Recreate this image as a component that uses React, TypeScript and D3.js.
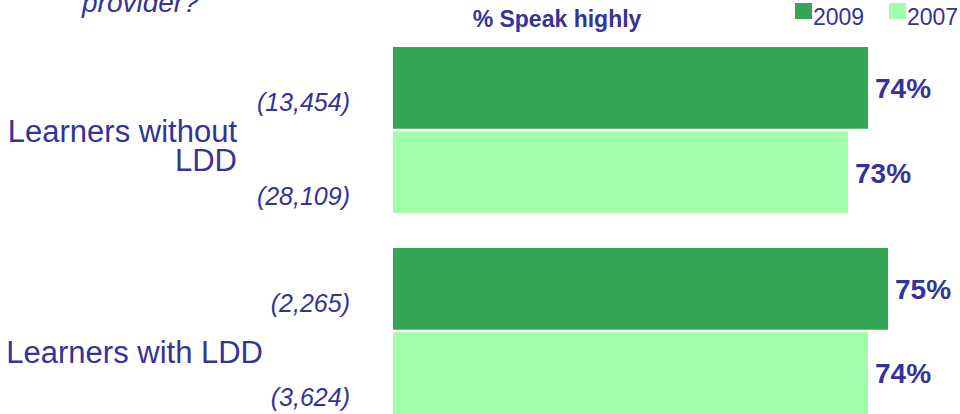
import React, { useEffect, useRef } from 'react';
import * as d3 from 'd3';

const categories = ['Learners without LDD', 'Learners with LDD'];
const categoryLines = [['Learners without', 'LDD'], ['Learners with LDD']];
const series = ['2009', '2007'];
const values2009 = [74, 75];
const values2007 = [73, 74];
const bases2009 = ['(13,454)', '(2,265)'];
const bases2007 = ['(28,109)', '(3,624)'];

const colors = ['#34a654', '#a1ffab'];
const navy = '#333399';

const App = () => {
  const svgRef = useRef<SVGSVGElement>(null);

  useEffect(() => {
    if (!svgRef.current) return;
    const width = 960;
    const height = 414;

    d3.select(svgRef.current).selectAll('*').remove();
    const svg = d3.select(svgRef.current)
      .attr('width', width)
      .attr('height', height)
      .style('font-family', 'Arial, "Liberation Sans", sans-serif');

    // value axis (the chart's baseline sits off to the left, bars are cut at the plot edge)
    const x = d3.scaleLinear().domain([50.25, 75]).range([393, 888]);

    const y0 = d3.scaleBand().domain(categories).range([47, 414]).paddingInner(0.174);
    const y1 = d3.scaleBand().domain(series).range([0, y0.bandwidth()]).paddingInner(0.03);

    const rows = categories.map((c, i) => ({
      cat: c,
      bars: [
        { s: series[0], v: values2009[i], base: bases2009[i] },
        { s: series[1], v: values2007[i], base: bases2007[i] },
      ],
    }));

    // title remnant (cut off at the top)
    svg.append('text')
      .attr('x', 82)
      .attr('y', 12)
      .attr('font-size', 28)
      .attr('font-style', 'italic')
      .attr('fill', navy)
      .text('provider?');

    svg.append('text')
      .attr('x', 557)
      .attr('y', 27)
      .attr('text-anchor', 'middle')
      .attr('font-size', 23)
      .attr('font-weight', 'bold')
      .attr('fill', navy)
      .text('% Speak highly');

    // legend
    const legendX = [795, 889];
    series.forEach((s, i) => {
      svg.append('rect')
        .attr('x', legendX[i])
        .attr('y', 3)
        .attr('width', 17)
        .attr('height', 16)
        .attr('fill', colors[i]);
      svg.append('text')
        .attr('x', legendX[i] + 18)
        .attr('y', 25)
        .attr('font-size', 23)
        .attr('fill', navy)
        .text(s);
    });

    const groups = svg.selectAll('g.row')
      .data(rows)
      .join('g')
      .attr('class', 'row')
      .attr('transform', d => `translate(0,${y0(d.cat)})`);

    groups.selectAll('rect')
      .data(d => d.bars)
      .join('rect')
      .attr('x', x.range()[0])
      .attr('y', d => y1(d.s)!)
      .attr('width', d => x(d.v) - x.range()[0])
      .attr('height', y1.bandwidth())
      .attr('fill', (d, i) => colors[i]);

    groups.selectAll('text.val')
      .data(d => d.bars)
      .join('text')
      .attr('class', 'val')
      .attr('x', d => x(d.v) + 7)
      .attr('y', d => y1(d.s)! + y1.bandwidth() / 2)
      .attr('dy', '0.37em')
      .attr('font-size', 28)
      .attr('font-weight', 'bold')
      .attr('fill', navy)
      .text(d => `${d.v}%`);

    groups.selectAll('text.base')
      .data(d => d.bars)
      .join('text')
      .attr('class', 'base')
      .attr('x', 350)
      .attr('y', (d, i) => i === 0 ? y1(d.s)! + y1.bandwidth() - 18 : y1(d.s)! + y1.bandwidth() - 8)
      .attr('text-anchor', 'end')
      .attr('font-size', 25)
      .attr('font-style', 'italic')
      .attr('fill', navy)
      .text(d => d.base);

    // category labels, sitting a little below the middle of each group
    const labelShift = [12, 32];
    groups.each(function (d, i) {
      const lines = categoryLines[i];
      const g = d3.select(this);
      const mid = y0.bandwidth() / 2;
      const anchorX = lines.length > 1 ? 237 : 263;
      lines.forEach((t, j) => {
        g.append('text')
          .attr('x', anchorX)
          .attr('y', mid + labelShift[i] + j * 29)
          .attr('text-anchor', 'end')
          .attr('font-size', 31)
          .attr('fill', navy)
          .text(t);
      });
    });
  }, []);

  return (
    <div style={{ position: 'absolute', left: 0, top: 0, background: '#fff' }}>
      <svg ref={svgRef}></svg>
    </div>
  );
};

export default App;
